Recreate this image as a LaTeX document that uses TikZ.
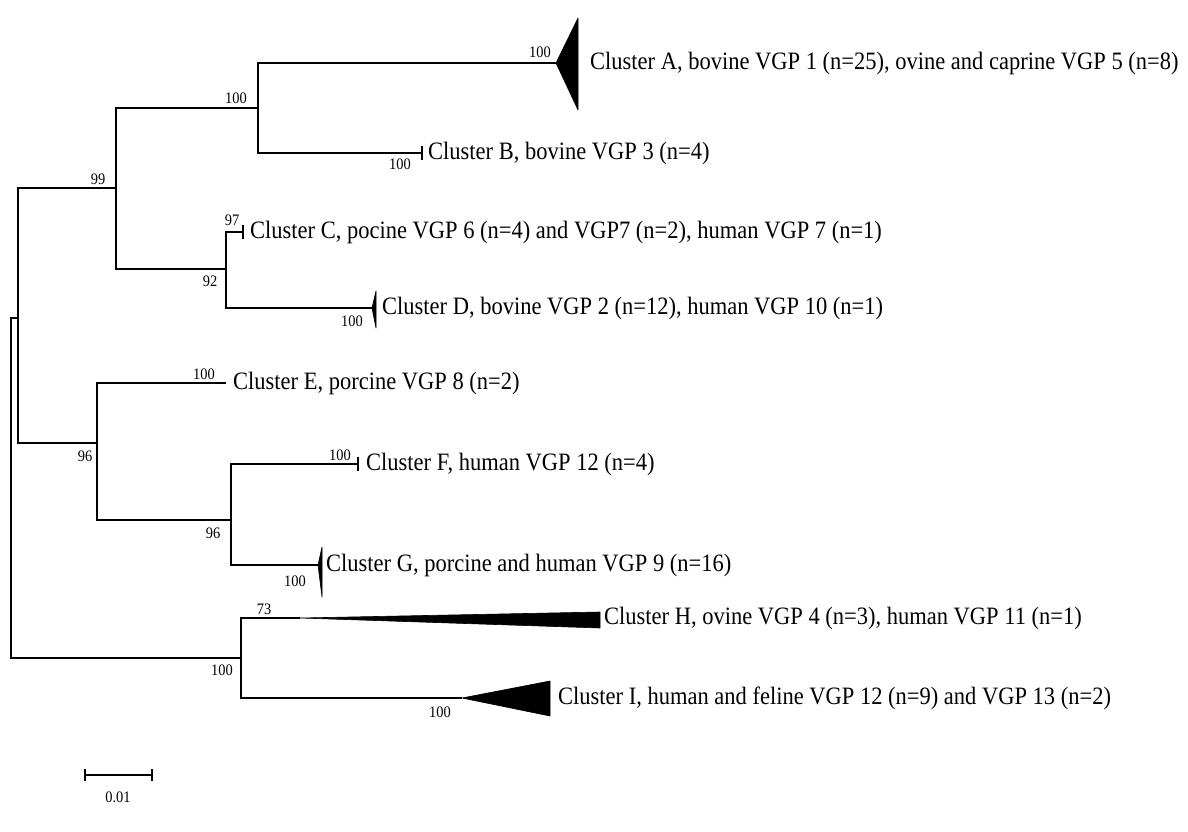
\documentclass[tikz,border=0pt]{standalone}
\usepackage{fontspec}
\setmainfont{Liberation Serif}
\newcommand{\cond}[1]{\scalebox{0.9}[1]{#1}}
\begin{document}
\begin{tikzpicture}[x=1pt,y=-1pt,
  br/.style={line width=1.3pt, line join=miter},
  clade/.style={fill=black, draw=black, line width=0.6pt, line join=round},
  lab/.style={anchor=west, inner sep=0pt, font=\fontsize{25}{27}\selectfont},
  bs/.style={inner sep=0pt, font=\fontsize{16}{18}\selectfont},
  tickmark/.style={line width=1.1pt}]
\useasboundingbox[fill=white] (0,0) rectangle (1188,832);
% internal nodes
\coordinate (root) at (11,488);
\coordinate (n1) at (18,318);
\coordinate (n2) at (116,188);
\coordinate (n3) at (258,108);
\coordinate (n4) at (226,269);
\coordinate (n5) at (97,443);
\coordinate (n6) at (231,520);
\coordinate (n8) at (241,658);
% tips
\coordinate (tA) at (556,63);
\coordinate (tB) at (422,153);
\coordinate (tC) at (243,232);
\coordinate (tD) at (372,308);
\coordinate (tE) at (226,383);
\coordinate (tF) at (358,464);
\coordinate (tG) at (318,565);
\coordinate (tH) at (300,618);
\coordinate (tI) at (462,698);
% branches
\draw[br] (n1) -| (root) |- (n8);
\draw[br] (n2) -| (n1) |- (n5);
\draw[br] (n3) -| (n2) |- (n4);
\draw[br] (tA) -| (n3) |- (tB);
\draw[br] (tC) -| (n4) |- (tD);
\draw[br] (tE) -| (n5) |- (n6);
\draw[br] (tF) -| (n6) |- (tG);
\draw[br] (tH) -| (n8) |- (tI);
% collapsed clades
\draw[clade] (tA) -- (578,18) -- (578,110) -- cycle;
\draw[clade] (tD) -- (376,291) -- (376,328) -- cycle;
\draw[clade] (tG) -- (322,547) -- (322,597) -- cycle;
\draw[clade] (tH) -- (600,612) -- (600,628) -- cycle;
\draw[clade] (tI) -- (550,681) -- (550,716) -- cycle;
% single-sequence ticks
\draw[tickmark] ([yshift=-7pt]tB) -- ([yshift=7pt]tB);
\draw[tickmark] ([yshift=-7pt]tC) -- ([yshift=7pt]tC);
\draw[tickmark] ([yshift=-7pt]tF) -- ([yshift=7pt]tF);
% cluster labels
\node[lab] (lA) at (590,63) {\cond{Cluster A, bovine VGP 1 (n=25), ovine and caprine VGP 5 (n=8)}};
\node[lab] (lB) at (428,153) {\cond{Cluster B, bovine VGP 3 (n=4)}};
\node[lab] (lC) at (250,232) {\cond{Cluster C, pocine VGP 6 (n=4) and VGP7 (n=2), human VGP 7 (n=1)}};
\node[lab] (lD) at (382,308) {\cond{Cluster D, bovine VGP 2 (n=12), human VGP 10 (n=1)}};
\node[lab] (lE) at (233,383) {\cond{Cluster E, porcine VGP 8 (n=2)}};
\node[lab] (lF) at (366,464) {\cond{Cluster F, human VGP 12 (n=4)}};
\node[lab] (lG) at (326,565) {\cond{Cluster G, porcine and human VGP 9 (n=16)}};
\node[lab] (lH) at (604,618) {\cond{Cluster H, ovine VGP 4 (n=3), human VGP 11 (n=1)}};
\node[lab] (lI) at (558,698) {\cond{Cluster I, human and feline VGP 12 (n=9) and VGP 13 (n=2)}};
% bootstrap values
\node[bs] (bA) at (540,52) {\cond{100}};
\node[bs] (b3) at (236,98) {\cond{100}};
\node[bs] (bB) at (400,164) {\cond{100}};
\node[bs] (b2) at (98,179) {\cond{99}};
\node[bs] (bC) at (232,220) {\cond{97}};
\node[bs] (b4) at (210,281) {\cond{92}};
\node[bs] (bD) at (352,321) {\cond{100}};
\node[bs] (bE) at (204,374) {\cond{100}};
\node[bs] (b5) at (85,456) {\cond{96}};
\node[bs] (bF) at (340,455) {\cond{100}};
\node[bs] (b6) at (213,533) {\cond{96}};
\node[bs] (bG) at (295,581) {\cond{100}};
\node[bs] (bH) at (264,609) {\cond{73}};
\node[bs] (b8) at (222,670) {\cond{100}};
\node[bs] (bI) at (440,712) {\cond{100}};
% scale bar
\coordinate (s1) at (85,775);
\coordinate (s2) at (152,775);
\draw[br] (s1) -- (s2);
\draw[tickmark] ([yshift=-6pt]s1) -- ([yshift=6pt]s1);
\draw[tickmark] ([yshift=-6pt]s2) -- ([yshift=6pt]s2);
\node[bs] (sl) at (118,797) {\cond{0.01}};
\end{tikzpicture}
\end{document}
